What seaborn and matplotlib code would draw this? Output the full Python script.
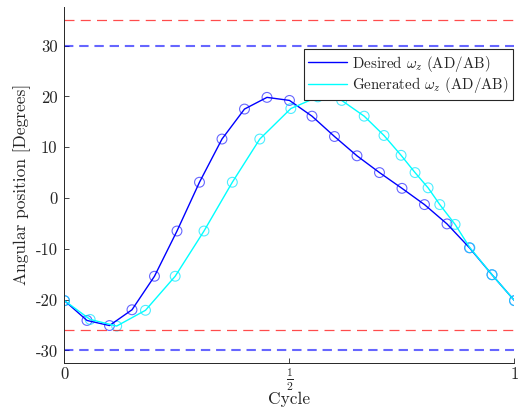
# -*- coding: utf-8 -*-
import numpy as np
import pandas as pd
import seaborn as sns
from matplotlib import pyplot as plt

# desired trajectory, sampled every 0.05 of the cycle
cycle_desired = [0.00, 0.05, 0.10, 0.15, 0.20, 0.25, 0.30, 0.35, 0.40, 0.45, 0.50,
                 0.55, 0.60, 0.65, 0.70, 0.75, 0.80, 0.85, 0.90, 0.95, 1.00]
angle_desired = [-20.2, -24.1, -25.1, -22.0, -15.4, -6.5, 3.1, 11.6, 17.5, 19.8, 19.2,
                 16.1, 12.1, 8.3, 5.0, 1.9, -1.3, -5.1, -9.8, -15.1, -20.2]

# generated trajectory (time-warped)
cycle_generated = [0.000, 0.057, 0.116, 0.180, 0.246, 0.310, 0.373, 0.434, 0.503, 0.563, 0.616,
                   0.666, 0.710, 0.748, 0.779, 0.808, 0.834, 0.868, 0.901, 0.950, 1.000]
angle_generated = [-20.2, -23.9, -25.2, -22.1, -15.4, -6.5, 3.1, 11.6, 17.6, 19.9, 19.2,
                   16.1, 12.3, 8.4, 5.0, 2.0, -1.3, -5.2, -9.8, -15.1, -20.2]

# joint limits
red_limits = [35, -26]
blue_limits = [30, -30]

xtick_vals = [0, 0.5, 1]
xtick_labels = ['0', r'$\frac{1}{2}$', '1']
ytick_vals = [-30, -20, -10, 0, 10, 20, 30]
ytick_labels = ['-30', '-20', '-10', '0', '10', '20', '30']

desired = pd.DataFrame({'cycle': cycle_desired, 'angle': angle_desired})
generated = pd.DataFrame({'cycle': cycle_generated, 'angle': angle_generated})

sns.set_style("ticks")
plt.rcParams['font.family'] = 'serif'
plt.rcParams['font.serif'] = ['cmr10', 'DejaVu Serif']
plt.rcParams['mathtext.fontset'] = 'cm'
plt.rcParams['axes.unicode_minus'] = False
plt.rcParams['font.size'] = 12

fig = plt.figure(figsize=(5.2, 4.07), dpi=100)
ax = fig.add_axes([0.124, 0.109, 0.8654, 0.874])

for v in red_limits:
    ax.axhline(v, color=(1, 0, 0, 0.7), lw=0.9, ls=(0, (8, 5)))
for v in blue_limits:
    ax.axhline(v, color=(0, 0, 1, 0.6), lw=1.5, ls=(0, (4.5, 2.8)))

sns.lineplot(data=desired, x='cycle', y='angle', ax=ax, color='#0000ff', lw=1.0,
             label=r'Desired $\omega_z$ (AD/AB)', sort=False)
sns.scatterplot(data=desired, x='cycle', y='angle', ax=ax, s=50, marker='o',
                facecolor='none', edgecolor=(0, 0, 1, 0.6), linewidth=0.8)
sns.lineplot(data=generated, x='cycle', y='angle', ax=ax, color='#00ffff', lw=1.0,
             label=r'Generated $\omega_z$ (AD/AB)', sort=False)
sns.scatterplot(data=generated, x='cycle', y='angle', ax=ax, s=50, marker='o',
                facecolor='none', edgecolor=(0, 0.9, 1, 0.7), linewidth=0.8)

ax.set_xlim(0, 1)
ax.set_ylim(-32.4, 37.6)
ax.set_xticks(xtick_vals)
ax.set_xticklabels(xtick_labels)
ax.set_yticks(ytick_vals)
ax.set_yticklabels(ytick_labels)
ax.tick_params(direction='in', length=3.5, width=0.6, color='#262626',
               labelcolor='#262626', labelsize=12)
ax.tick_params(axis='y', pad=5)
ax.tick_params(axis='x', pad=3)
sns.despine(ax=ax)
for s in ['left', 'bottom']:
    ax.spines[s].set_color('#262626')
    ax.spines[s].set_linewidth(0.7)

ax.set_xlabel('Cycle', color='#262626', fontsize=12.5, labelpad=-1)
ax.set_ylabel('Angular position [Degrees]', color='#262626', fontsize=12.5, labelpad=3)

leg = ax.legend(loc='upper right', bbox_to_anchor=(0.9967, 0.881), borderaxespad=0,
                frameon=True, fancybox=False, framealpha=1, edgecolor='#262626',
                fontsize=10.8, handlelength=2.6, handletextpad=0.3,
                labelspacing=0.1, borderpad=0.3)
leg.get_frame().set_linewidth(0.8)

plt.savefig('out.png', dpi=100)
